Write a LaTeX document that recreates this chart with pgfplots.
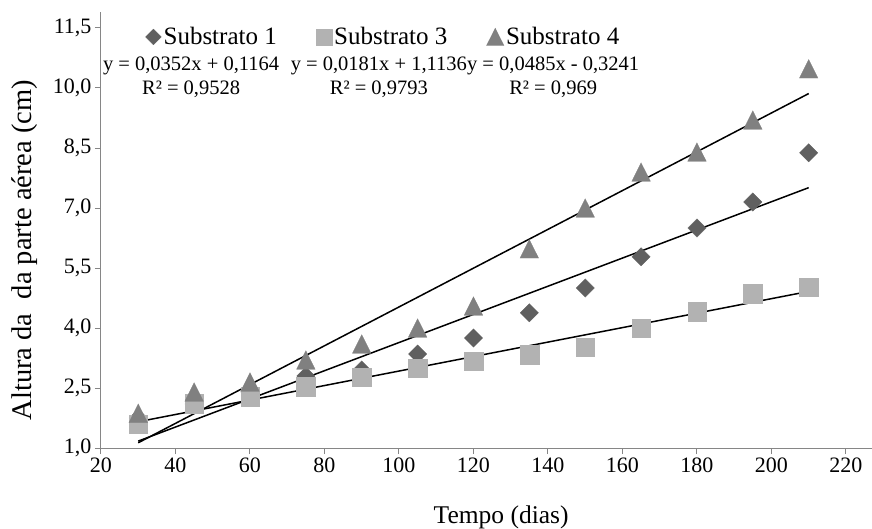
\documentclass[border=0pt]{standalone}
\usepackage{fontspec}
\setmainfont{Liberation Serif}
\usepackage{pgfplots}
\pgfplotsset{compat=1.18}

\definecolor{sone}{RGB}{96,96,96}
\definecolor{sthree}{RGB}{178,178,178}
\definecolor{sfour}{RGB}{128,128,128}
\definecolor{axgray}{RGB}{134,134,134}

% legend image: one mark in a 16pt wide cell
\pgfplotsset{legmark/.style={legend image code/.code={%
  \path (0pt,0pt) (16pt,0pt);
  \draw[##1] plot coordinates {(8pt,0pt)};}}}

\begin{document}
\begin{tikzpicture}
\begin{axis}[
  scale only axis, width=771pt, height=436pt,
  xmin=20, xmax=227, ymin=1, ymax=11.9,
  xtick={20,40,60,80,100,120,140,160,180,200,220},
  ytick={1,2.5,4,5.5,7,8.5,10,11.5},
  axis x line=bottom, axis y line=left,
  axis line style={-, draw=axgray, line width=1pt},
  tick style={draw=axgray, line width=1pt},
  tick align=outside, major tick length=6pt,
  /pgf/number format/assume math mode=true,
  y tick label style={/pgf/number format/.cd, fixed, fixed zerofill, precision=1, use comma},
  tick label style={font=\fontsize{22}{26}\selectfont},
  xlabel={Tempo (dias)},
  ylabel={Altura da\ \ da parte aérea (cm)},
  every axis x label/.style={at={(rel axis cs:0.519,-0.158)}, anchor=center, font=\fontsize{25.5}{30}\selectfont},
  every axis y label/.style={at={(rel axis cs:-0.0986,0.454)}, rotate=90, anchor=center, font=\fontsize{28.5}{32}\selectfont},
  legend columns=3,
  legend cell align=left,
  legend style={at={(rel axis cs:0.0571,0.9427)}, anchor=west, draw=none, fill=none,
    inner sep=0pt, font=\fontsize{25}{30}\selectfont, nodes={inner sep=2pt},
    /tikz/every even column/.append style={column sep=37pt}},
]
% Substrato 1
\addplot[sone, only marks, mark=square*, mark size=6.5pt, mark options={rotate=45, line width=0.2pt}, forget plot]
  coordinates {(30,1.75) (45,2.1) (60,2.4) (75,2.8) (90,2.95) (105,3.35) (120,3.75)
               (135,4.38) (150,5.0) (165,5.78) (180,6.5) (195,7.15) (210,8.38)};
% Substrato 3
\addplot[sthree, only marks, mark=square*, mark size=9.3pt, mark options={line width=0.2pt}, forget plot]
  coordinates {(30,1.6) (45,2.11) (60,2.29) (75,2.53) (90,2.77) (105,3.0) (120,3.17)
               (135,3.33) (150,3.52) (165,4.0) (180,4.41) (195,4.86) (210,5.02)};
% Substrato 4
\addplot[sfour, only marks, mark=triangle*, mark size=10.8pt, mark options={yshift=-3.1pt, yscale=1.15, line width=0.2pt}, forget plot]
  coordinates {(30,1.87) (45,2.4) (60,2.65) (75,3.2) (90,3.6) (105,4.0) (120,4.55)
               (135,5.98) (150,7.0) (165,7.9) (180,8.4) (195,9.2) (210,10.48)};
% linear trend lines
\addplot[black, line width=1.5pt, forget plot] coordinates {(30,1.1724) (210,7.5084)};
\addplot[black, line width=1.5pt, forget plot] coordinates {(30,1.6566) (210,4.9146)};
\addplot[black, line width=1.5pt, forget plot] coordinates {(30,1.1309) (210,9.8609)};

\addlegendimage{legmark, sone, only marks, mark=square*, mark size=5.6pt, mark options={rotate=45, line width=0.2pt}}
\addlegendentry{Substrato 1}
\addlegendimage{legmark, sthree, only marks, mark=square*, mark size=8.2pt, mark options={line width=0.2pt}}
\addlegendentry{Substrato 3}
\addlegendimage{legmark, sfour, only marks, mark=triangle*, mark size=10.2pt, mark options={yshift=-2.8pt, yscale=1.15, line width=0.2pt}}
\addlegendentry{Substrato 4}

\node[align=center, font=\fontsize{20.5}{24}\selectfont] at (axis cs:44.2,10.27) {y = 0,0352x + 0,1164\\R² = 0,9528};
\node[align=center, font=\fontsize{20.5}{24}\selectfont] at (axis cs:94.6,10.27) {y = 0,0181x + 1,1136\\R² = 0,9793};
\node[align=center, font=\fontsize{20.5}{24}\selectfont] at (axis cs:141.4,10.27) {y = 0,0485x - 0,3241\\R² = 0,969};

\coordinate (bl) at (rel axis cs:0,0);
\coordinate (tr) at (rel axis cs:1,1);
\end{axis}
\pgfresetboundingbox
\path[use as bounding box] ([shift={(-101pt,-80pt)}]bl) rectangle ([shift={(0pt,12pt)}]tr);
\end{tikzpicture}
\end{document}
